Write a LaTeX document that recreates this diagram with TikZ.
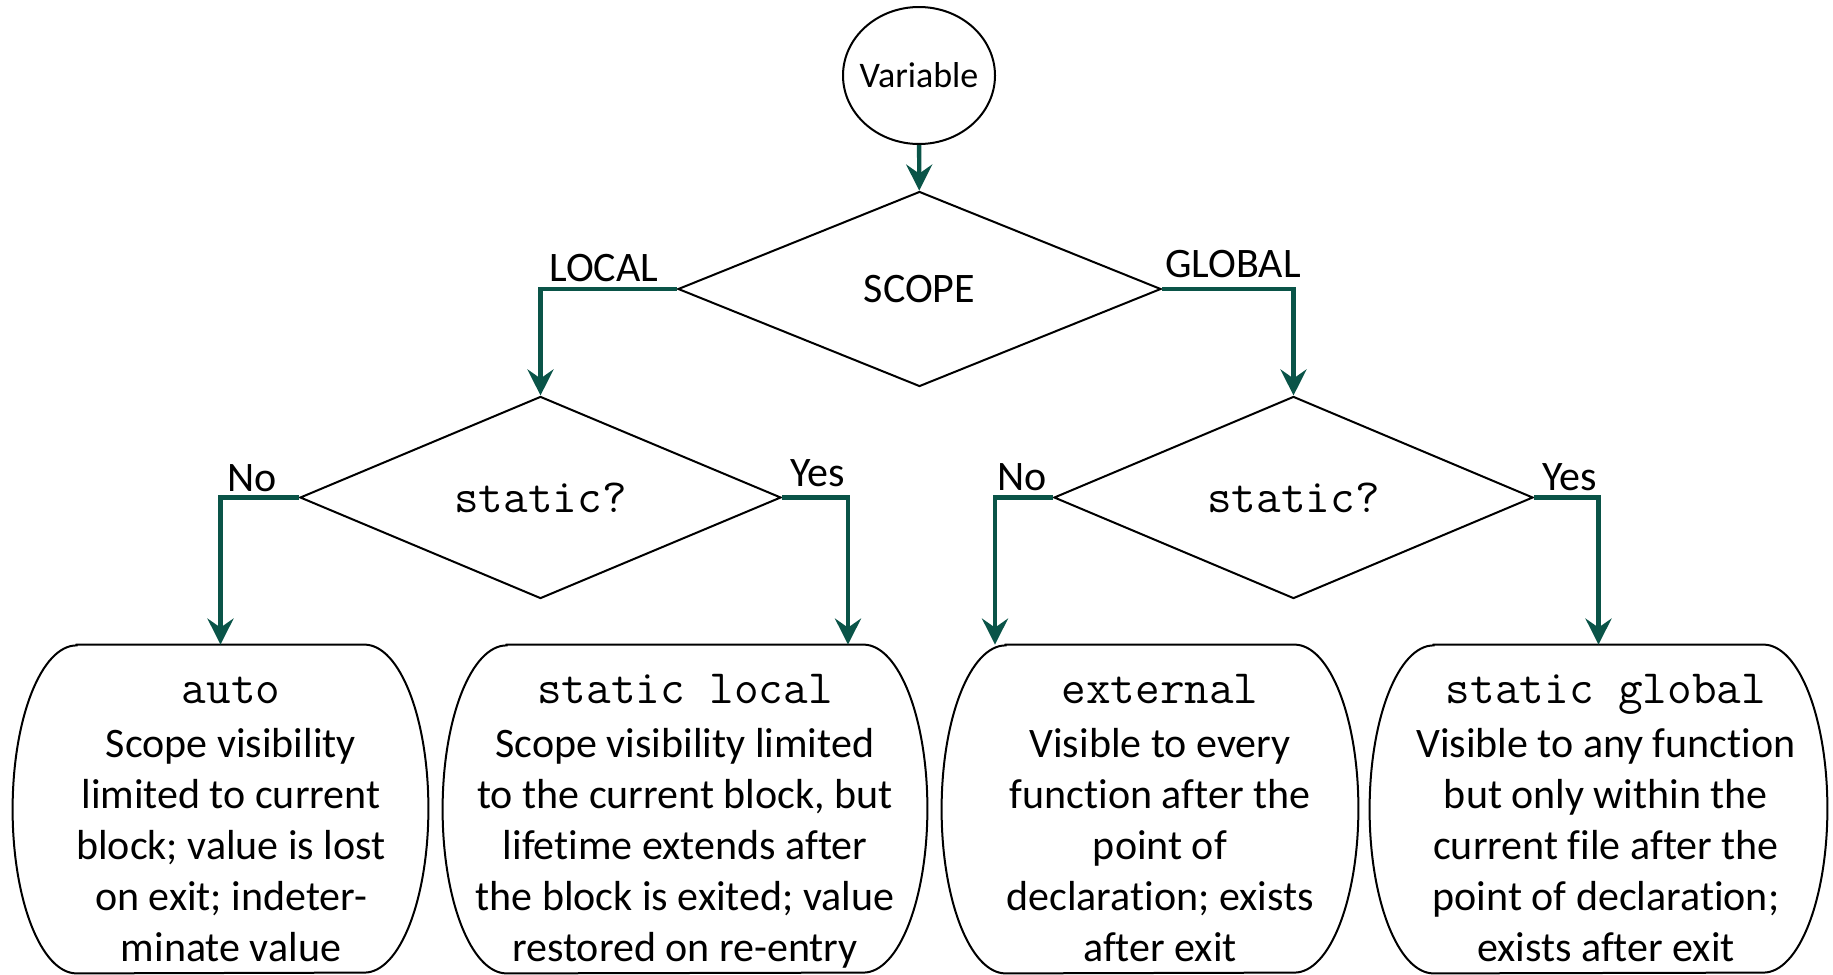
\documentclass[tikz,border=0pt]{standalone}
\usepackage{fontspec}
\setmainfont{Carlito}[Ligatures=NoCommon]
\newcommand\codefont{\fontsize{23.9}{25.5}\selectfont\ttfamily}
\usetikzlibrary{shapes.geometric,arrows.meta}

\definecolor{flowgreen}{RGB}{10,84,72}

\tikzset{
  outline/.style={draw=black, line width=1pt},
  decision/.style={diamond, outline, inner sep=0pt, font=\fontsize{21}{25}\selectfont},
  startnode/.style={ellipse, outline, inner xsep=-3.6pt, inner ysep=0pt,
    font=\fontsize{18}{22}\selectfont},
  boxshape/.style={rectangle, draw=none, inner sep=0pt, minimum height=164pt},
  boxtext/.style={align=center, inner sep=0pt, anchor=north,
    font=\fontsize{21}{25.5}\selectfont},
  branch/.style={font=\fontsize{21}{25}\selectfont, inner sep=0pt, anchor=base west},
  flow/.style={draw=flowgreen, line width=2.2pt,
    -{Stealth[length=13pt,width=13pt,inset=4.5pt]}},
}

% rounded box with elliptical ends around a named node
\newcommand\drawstadium[1]{%
  \draw[outline] ([xshift=32pt]#1.north west) -- ([xshift=-32pt]#1.north east)
    arc[start angle=90, end angle=-90, x radius=32pt, y radius=82pt]
    -- ([xshift=32pt]#1.south west)
    arc[start angle=270, end angle=90, x radius=32pt, y radius=82pt] -- cycle;}

\begin{document}
\begin{tikzpicture}[x=0.5pt, y=-0.5pt]
  \useasboundingbox (0,0) rectangle (1833,975);

  % start and decisions
  \node[startnode, minimum width=76pt, minimum height=68.5pt] (var) at (919,75.5) {Variable};
  \node[decision, minimum width=241.5pt, minimum height=97.5pt] (scope) at (919.5,289) {SCOPE};
  \node[decision, minimum width=240.5pt, minimum height=96.5pt] (ls) at (540.5,497.5) {\codefont static?};
  \node[decision, minimum width=239.5pt, minimum height=96.5pt] (gs) at (1293.5,497.5) {\codefont static?};

  % result boxes
  \node[boxshape, minimum width=207.5pt] (b1) at (220.5,809) {};
  \node[boxshape, minimum width=242pt]   (b2) at (685,809) {};
  \node[boxshape, minimum width=208pt]   (b3) at (1150,809) {};
  \node[boxshape, minimum width=228.5pt] (b4) at (1598.5,809) {};
  \drawstadium{b1}
  \drawstadium{b2}
  \drawstadium{b3}
  \drawstadium{b4}

  \node[boxtext] (b1t) at (231,667) {{\codefont\strut auto}\\[1.5pt]
    Scope visibility\\ limited to current\\ block; value is lost\\ on exit; indeter-\\ minate value};
  \node[boxtext] (b2t) at (685,667) {{\codefont\strut static local}\\[1.5pt]
    Scope visibility limited\\ to the current block, but\\ lifetime extends after\\ the block is exited; value\\ restored on re-entry};
  \node[boxtext] (b3t) at (1160,667) {{\codefont\strut external}\\[1.5pt]
    Visible to every\\ function after the\\ point of\\ declaration; exists\\ after exit};
  \node[boxtext] (b4t) at (1606,667) {{\codefont\strut static global}\\[1.5pt]
    Visible to any function\\ but only within the\\ current file after the\\ point of declaration;\\ exists after exit};

  % connectors
  \draw[flow] (var) -- (scope);
  \draw[flow] (scope.west) -| (ls.north);
  \draw[flow] (scope.east) -| (gs.north);
  \draw[flow] (ls.west) -| (b1.north);
  \draw[flow] (ls.east) -| ([xshift=81.5pt]b2.north);
  \draw[flow] (gs.west) -| ([xshift=-77.5pt]b3.north);
  \draw[flow] (gs.east) -| (b4.north);

  % branch labels
  \node[branch] (local)  at (549,281)  {LOCAL};
  \node[branch] (global) at (1165,277) {GLOBAL};
  \node[branch] (lno)    at (227,491)  {No};
  \node[branch] (lyes)   at (790,486)  {Yes};
  \node[branch] (gno)    at (997,490)  {No};
  \node[branch] (gyes)   at (1542,490) {Yes};
\end{tikzpicture}
\end{document}
